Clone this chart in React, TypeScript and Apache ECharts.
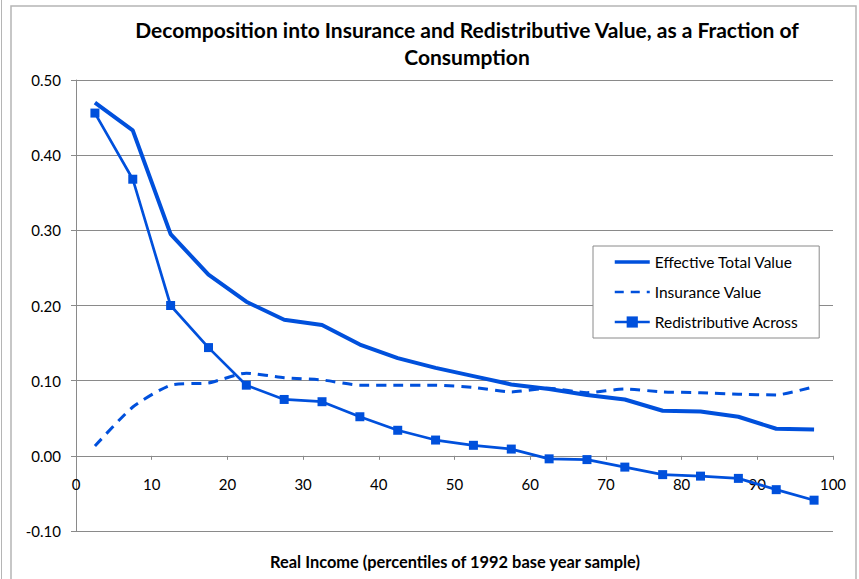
import React, { useEffect, useRef } from "react";
import * as echarts from "echarts";

const percentiles = [2.5, 7.5, 12.5, 17.5, 22.5, 27.5, 32.5, 37.5, 42.5, 47.5, 52.5, 57.5, 62.5, 67.5, 72.5, 77.5, 82.5, 87.5, 92.5, 97.5];
const effectiveTotal = [0.470, 0.433, 0.295, 0.241, 0.205, 0.181, 0.174, 0.148, 0.130, 0.117, 0.106, 0.095, 0.089, 0.081, 0.075, 0.060, 0.059, 0.052, 0.036, 0.035];
const insuranceValue = [0.013, 0.065, 0.094, 0.097, 0.110, 0.104, 0.101, 0.094, 0.094, 0.094, 0.091, 0.085, 0.090, 0.084, 0.089, 0.085, 0.084, 0.082, 0.081, 0.092];
const redistributive = [0.456, 0.368, 0.200, 0.144, 0.094, 0.075, 0.072, 0.052, 0.034, 0.021, 0.014, 0.009, -0.004, -0.005, -0.015, -0.025, -0.027, -0.030, -0.045, -0.059];
const seriesNames = ["Effective Total Value", "Insurance Value", "Redistributive Across"];
const titleText = "Decomposition into Insurance and Redistributive Value, as a Fraction of\nConsumption";
const xAxisTitle = "Real Income (percentiles of 1992 base year sample)";

const BLUE = "#0050DC";
const GRID = "#8a8a8a";
const FONT = "Lato, 'Open Sans', sans-serif";

const pairs = (ys: number[]) => percentiles.map((x, i) => [x, ys[i]]);

export default function App() {
  const ref = useRef<HTMLDivElement>(null);
  useEffect(() => {
    if (!ref.current) return;
    const chart = echarts.init(ref.current, null, { renderer: "svg" });
    chart.setOption({
      animation: false,
      backgroundColor: "#fff",
      graphic: [
        { type: "line", shape: { x1: 1.5, y1: 0, x2: 1.5, y2: 579 }, style: { stroke: "#b5b5b5", lineWidth: 1 } },
        { type: "rect", shape: { x: 11, y: 6, width: 845, height: 600 }, style: { fill: "none", stroke: "#b5b5b5", lineWidth: 1.5 } },
        {
          type: "text",
          x: 467,
          y: 16,
          style: {
            text: titleText,
            textAlign: "center",
            textVerticalAlign: "top",
            fontFamily: FONT,
            fontWeight: "bold",
            fontSize: 21,
            lineHeight: 27,
            fill: "#000",
          },
        },
        {
          type: "text",
          x: 455,
          y: 561,
          style: {
            text: xAxisTitle,
            textAlign: "center",
            textVerticalAlign: "middle",
            fontFamily: FONT,
            fontWeight: "bold",
            fontSize: 16.4,
            fill: "#000",
          },
        },
      ],
      grid: { left: 76, right: 26, top: 80, bottom: 48, containLabel: false },
      legend: {
        orient: "vertical",
        left: 593,
        top: 246,
        data: [
          { name: seriesNames[0], itemStyle: { opacity: 0 }, lineStyle: { width: 3.5 } },
          { name: seriesNames[1], itemStyle: { opacity: 0 }, lineStyle: { width: 2.5, type: [9, 7] } },
          { name: seriesNames[2], lineStyle: { width: 2.5 } },
        ],
        itemWidth: 35,
        itemHeight: 14,
        itemGap: 14,
        padding: [8, 21, 8, 20],
        borderColor: "#8a8a8a",
        borderWidth: 1,
        backgroundColor: "#fff",
        textStyle: { fontFamily: FONT, fontSize: 15.5, color: "#000" },
      },
      xAxis: {
        type: "value",
        min: 0,
        max: 100,
        interval: 10,
        axisLine: { show: true, onZero: true, lineStyle: { color: GRID, width: 1 } },
        axisTick: { show: true, length: 4, lineStyle: { color: GRID } },
        axisLabel: { margin: -55, fontFamily: FONT, fontSize: 15, color: "#000" },
        splitLine: { show: false },
      },
      yAxis: {
        type: "value",
        min: -0.1,
        max: 0.5,
        interval: 0.1,
        axisLine: { show: true, lineStyle: { color: GRID, width: 1 } },
        axisTick: { show: true, length: 5, lineStyle: { color: GRID } },
        axisLabel: {
          margin: 15,
          fontFamily: FONT,
          fontSize: 15,
          color: "#000",
          formatter: (v: number) => v.toFixed(2),
        },
        splitLine: { show: true, lineStyle: { color: GRID, width: 1 } },
      },
      series: [
        {
          name: seriesNames[0],
          type: "line",
          data: pairs(effectiveTotal),
          symbol: "none",
          lineStyle: { color: BLUE, width: 4 },
          itemStyle: { color: BLUE },
        },
        {
          name: seriesNames[1],
          type: "line",
          data: pairs(insuranceValue),
          symbol: "none",
          smooth: 0.2,
          lineStyle: { color: BLUE, width: 3, type: [10, 7] },
          itemStyle: { color: BLUE },
        },
        {
          name: seriesNames[2],
          type: "line",
          data: pairs(redistributive),
          symbol: "rect",
          symbolSize: 9,
          lineStyle: { color: BLUE, width: 2.7 },
          itemStyle: { color: BLUE },
        },
      ],
    });
    return () => chart.dispose();
  }, []);
  return <div ref={ref} style={{ position: "fixed", left: 0, top: 0, width: 859, height: 579 }} />;
}
